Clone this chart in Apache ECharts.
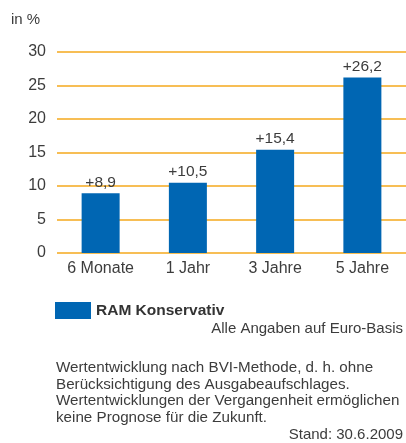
<!DOCTYPE html>
<html>
<head>
<meta charset="utf-8">
<script src="https://cdn.jsdelivr.net/npm/echarts@6/dist/echarts.min.js"></script>
<style>
  html, body { margin: 0; padding: 0; background: #fff; }
  #main { width: 406px; height: 443px; }
</style>
</head>
<body>
<div id="main"></div>
<script>
const categories = ["6 Monate", "1 Jahr", "3 Jahre", "5 Jahre"];
const values = [8.9, 10.5, 15.4, 26.2];
const seriesName = "RAM Konservativ";
const footnoteLines = [
  "Wertentwicklung nach BVI-Methode, d. h. ohne",
  "Berücksichtigung des Ausgabeaufschlages.",
  "Wertentwicklungen der Vergangenheit ermöglichen",
  "keine Prognose für die Zukunft."
];

const font = "Liberation Sans";
const textColor = "#3c3c3c";

let chart = echarts.init(document.getElementById("main"));
let option = {
  animation: false,
  textStyle: { fontFamily: font },
  grid: { left: 57, right: 0, top: 52, bottom: 190 },
  legend: {
    data: [seriesName],
    left: 50,
    top: 297,
    itemWidth: 36,
    itemHeight: 17,
    itemGap: 10,
    icon: "rect",
    textStyle: { fontFamily: font, fontSize: 15.5, fontWeight: "bold", color: "#333" }
  },
  xAxis: {
    type: "category",
    data: categories,
    axisLine: { show: false },
    axisTick: { show: false },
    axisLabel: { color: textColor, fontSize: 16, margin: 8 }
  },
  yAxis: {
    type: "value",
    min: 0,
    max: 30,
    interval: 5,
    axisLine: { show: false },
    axisTick: { show: false },
    axisLabel: { color: textColor, fontSize: 16, margin: 11 },
    splitLine: { lineStyle: { color: "#f5a81c", width: 1.6 } }
  },
  series: [
    {
      name: seriesName,
      type: "bar",
      data: values,
      barWidth: 38,
      itemStyle: { color: "#0066b3" },
      label: {
        show: true,
        position: "top",
        distance: 3,
        color: textColor,
        fontSize: 15.5,
        formatter: (p) => "+" + String(p.value).replace(".", ",")
      }
    }
  ],
  graphic: [
    {
      type: "text",
      left: 11,
      top: 12,
      style: { text: "in %", fill: textColor, font: "15px " + font }
    },
    {
      type: "text",
      right: 3,
      top: 321,
      style: { text: "Alle Angaben auf Euro-Basis", fill: textColor, font: "15px " + font }
    },
    {
      type: "text",
      left: 56,
      top: 360,
      style: {
        text: footnoteLines.join("\n"),
        fill: textColor,
        font: "15.2px " + font,
        lineHeight: 16.5
      }
    },
    {
      type: "text",
      right: 3,
      top: 427,
      style: { text: "Stand: 30.6.2009", fill: textColor, font: "15px " + font }
    }
  ]
};
chart.setOption(option);
</script>
</body>
</html>
